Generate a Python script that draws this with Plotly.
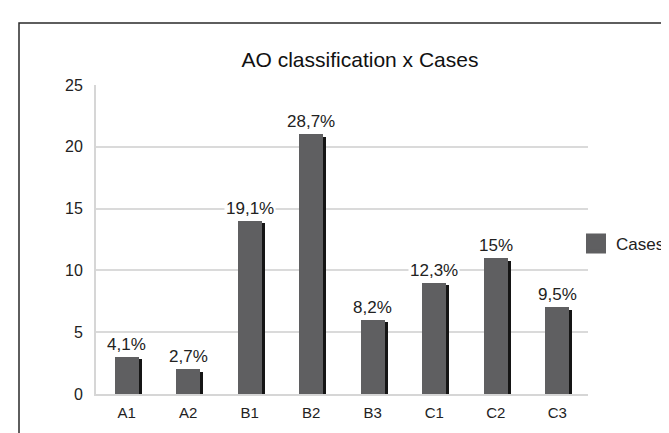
import plotly.graph_objects as go

categories = ["A1", "A2", "B1", "B2", "B3", "C1", "C2", "C3"]
cases = [3, 2, 14, 21, 6, 9, 11, 7]
percent_labels = ["4,1%", "2,7%", "19,1%", "28,7%", "8,2%", "12,3%", "15%", "9,5%"]
y_ticks = [0, 5, 10, 15, 20, 25]

W, H = 669, 433
ML, MR, MT, MB = 88, 89, 77, 47
PW = W - ML - MR
PH = H - MT - MB

BAR_W = 0.39
SHADOW_DX = 0.045
SHADOW_DY = 0.2
FONT = "Liberation Sans, Arial, Helvetica, sans-serif"

fig = go.Figure()

# shadow
fig.add_trace(go.Bar(
    x=categories, y=[v - SHADOW_DY for v in cases],
    width=BAR_W, offset=-BAR_W / 2 + SHADOW_DX,
    marker=dict(color="#151515", line=dict(width=0)),
    showlegend=False, hoverinfo="skip"))
# main bars
fig.add_trace(go.Bar(
    x=categories, y=cases,
    width=BAR_W, offset=-BAR_W / 2,
    marker=dict(color="#5f5f61", line=dict(width=0)),
    name="Cases", showlegend=False))
# legend entry
fig.add_trace(go.Scatter(
    x=[None], y=[None], mode="markers", name="Cases",
    marker=dict(symbol="square", size=16, color="#5f5f61",
                line=dict(color="#5f5f61", width=4)),
    showlegend=True))

for c, v, t in zip(categories, cases, percent_labels):
    fig.add_annotation(x=c, y=v, text=t, showarrow=False, yanchor="bottom",
                       yshift=1, bgcolor="white", borderpad=1,
                       font=dict(family=FONT, size=17, color="#222222"))

def px_x(px):
    return (px - ML) / PW

def px_y(py):
    return (H - MB - py) / PH

# outer border
fig.add_shape(type="rect", xref="paper", yref="paper",
              x0=px_x(11), x1=px_x(720), y0=px_y(460), y1=px_y(15),
              line=dict(color="#2a2a2a", width=1.5), fillcolor="rgba(0,0,0,0)",
              layer="below")

fig.update_layout(
    width=W, height=H,
    margin=dict(l=ML, r=MR, t=MT, b=MB, autoexpand=False),
    paper_bgcolor="white", plot_bgcolor="white",
    barmode="overlay",
    bargap=0,
    font=dict(family=FONT, color="#222222"),
    title=dict(text="AO classification x Cases", x=px_x(352), xref="paper",
               xanchor="center", y=1 - 52 / H, yanchor="middle",
               font=dict(family=FONT, size=21, color="#111111")),
    legend=dict(x=px_x(568), xanchor="left", y=px_y(236), yanchor="middle",
                font=dict(family=FONT, size=17, color="#222222"),
                bgcolor="rgba(0,0,0,0)", itemsizing="trace"),
    showlegend=True,
)
fig.update_xaxes(type="category", categoryorder="array", categoryarray=categories,
                 showgrid=False, showline=True, linecolor="#d6d6d6", linewidth=2,
                 ticks="", tickfont=dict(family=FONT, size=15, color="#222222"),
                 ticklabelstandoff=4, range=[-0.5, 7.5], fixedrange=True)
fig.update_yaxes(range=[0, 25], tickvals=y_ticks, showgrid=True,
                 gridcolor="#dadada", gridwidth=2, zeroline=False,
                 showline=True, linecolor="#d6d6d6", linewidth=2,
                 ticks="", tickfont=dict(family=FONT, size=16, color="#222222"),
                 ticklabelstandoff=8, fixedrange=True)

fig.write_html("out.html")
